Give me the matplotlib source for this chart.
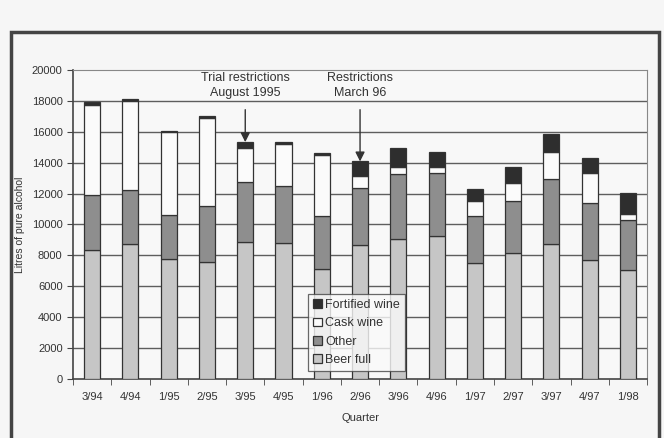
import matplotlib
matplotlib.use('Agg')
import matplotlib.pyplot as plt
import numpy as np
from matplotlib.patches import Rectangle

plt.rcParams['font.family'] = ['Liberation Sans', 'DejaVu Sans']

# Quarterly data (cumulative tops converted to segments)
quarters = ['3/94', '4/94', '1/95', '2/95', '3/95', '4/95', '1/96', '2/96',
            '3/96', '4/96', '1/97', '2/97', '3/97', '4/97', '1/98']
beer_full = [8360, 8750, 7760, 7590, 8840, 8800, 7120, 8690,
             9070, 9250, 7540, 8150, 8750, 7670, 7070]
other = [3520, 3490, 2850, 3580, 3880, 3720, 3460, 3660,
         4210, 4070, 3040, 3400, 4190, 3710, 3190]
cask_wine = [5860, 5760, 5350, 5730, 2220, 2680, 3940, 760,
             430, 370, 970, 1130, 1720, 1940, 410]
fortified_wine = [220, 130, 80, 150, 390, 150, 100, 970,
                  1270, 990, 740, 1050, 1190, 990, 1400]

beer_full = np.array(beer_full)
other = np.array(other)
cask_wine = np.array(cask_wine)
fortified_wine = np.array(fortified_wine)

fig = plt.figure(figsize=(6.64, 4.38), dpi=100, facecolor='#f6f6f6')
ax = fig.add_axes([0.110, 0.1347, 0.8645, 0.7055])
ax.set_facecolor('#f8f8f8')

x = np.arange(len(quarters))
w = 0.42
edge = '#333333'
b1 = ax.bar(x, beer_full, w, color='#c6c6c6', edgecolor=edge, linewidth=0.9, zorder=3, label='Beer full')
b2 = ax.bar(x, other, w, bottom=beer_full, color='#8e8e8e', edgecolor=edge, linewidth=0.9, zorder=3, label='Other')
b3 = ax.bar(x, cask_wine, w, bottom=beer_full + other, color='#fbfbfb', edgecolor=edge, linewidth=0.9, zorder=3, label='Cask wine')
b4 = ax.bar(x, fortified_wine, w, bottom=beer_full + other + cask_wine, color='#2e2e2e', edgecolor=edge, linewidth=0.9, zorder=3, label='Fortified wine')

ax.set_xlim(-0.5, len(quarters) - 0.5)
ax.set_ylim(0, 20000)
ax.set_yticks(np.arange(0, 20001, 2000))
ax.set_xticks(x)
ax.set_xticklabels(quarters)
ax.set_xticks(np.arange(-0.5, len(quarters), 1), minor=True)
ax.tick_params(axis='x', which='major', length=0, pad=9, labelsize=8, colors='#333333')
ax.tick_params(axis='x', which='minor', length=4, direction='out', color='#444444')
ax.tick_params(axis='y', length=4, direction='out', labelsize=8, colors='#333333', color='#444444')

for v in range(2000, 20000, 2000):
    ax.axhline(v, color='#5e5e5e', linewidth=1.0, zorder=1)

ax.spines['left'].set_color('#444444')
ax.spines['bottom'].set_color('#444444')
ax.spines['left'].set_linewidth(1.2)
ax.spines['bottom'].set_linewidth(1.2)
ax.spines['top'].set_linestyle((0, (1, 1)))
ax.spines['right'].set_linestyle((0, (1, 1)))
ax.spines['top'].set_color('#888888')
ax.spines['right'].set_color('#888888')

ax.set_ylabel('Litres of pure alcohol', fontsize=7.5, color='#333333', labelpad=5)
ax.set_xlabel('Quarter', fontsize=8, color='#333333', labelpad=8)

totals = beer_full + other + cask_wine + fortified_wine
ax.annotate('Trial restrictions\nAugust 1995', xy=(4, totals[4]), xytext=(4, 18150),
            ha='center', va='bottom', fontsize=9, color='#333333', linespacing=1.3,
            arrowprops=dict(arrowstyle='-|>', color='#333333', lw=1.0, mutation_scale=14,
                            shrinkA=6, shrinkB=0), zorder=5)
ax.annotate('Restrictions\nMarch 96', xy=(7, totals[7]), xytext=(7, 18150),
            ha='center', va='bottom', fontsize=9, color='#333333', linespacing=1.3,
            arrowprops=dict(arrowstyle='-|>', color='#333333', lw=1.0, mutation_scale=14,
                            shrinkA=6, shrinkB=0), zorder=5)

leg = ax.legend(handles=[b4, b3, b2, b1], loc='upper left', bbox_to_anchor=(0.409, 0.275),
                fontsize=9, frameon=True, fancybox=False, handlelength=0.7, handleheight=0.7,
                handletextpad=0.3, borderpad=0.4, labelspacing=0.5, borderaxespad=0)
leg.get_frame().set_edgecolor('#444444')
leg.get_frame().set_facecolor('#fafafa')
leg.get_frame().set_linewidth(0.9)
leg.set_zorder(6)
for t in leg.get_texts():
    t.set_color('#333333')

# outer frame around the chart (bottom runs off the image)
fig.patches.append(Rectangle((11 / 664, -0.05), (659 - 11) / 664, (438 - 32) / 438 + 0.05,
                             transform=fig.transFigure, fill=False, edgecolor='#444444',
                             linewidth=2.5, zorder=0))

fig.savefig('out.png', dpi=100, facecolor=fig.get_facecolor())
